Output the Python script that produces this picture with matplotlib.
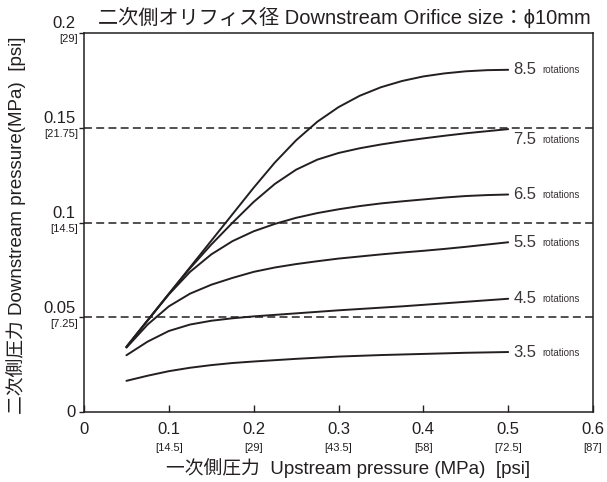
import matplotlib

matplotlib.use("Agg")
import matplotlib.pyplot as plt
import matplotlib.transforms as mtransforms

plt.rcParams["font.family"] = ["Liberation Sans", "Noto Sans CJK JP", "DejaVu Sans"]

# upstream pressure (MPa)
upstream = [0.05, 0.075, 0.1, 0.125, 0.15, 0.175, 0.2, 0.225, 0.25, 0.275,
            0.3, 0.325, 0.35, 0.375, 0.4, 0.425, 0.45, 0.475, 0.5]

# downstream pressure (MPa) for each handle setting
rot_35 = [0.0165, 0.0192, 0.0216, 0.0234, 0.0248, 0.0259, 0.0267, 0.0274, 0.0281, 0.0287,
          0.0293, 0.0297, 0.0301, 0.0304, 0.0307, 0.0310, 0.0313, 0.0315, 0.0317]
rot_45 = [0.0300, 0.0372, 0.0428, 0.0462, 0.0482, 0.0495, 0.0505, 0.0513, 0.0521, 0.0529,
          0.0537, 0.0544, 0.0551, 0.0558, 0.0566, 0.0574, 0.0582, 0.0590, 0.0598]
rot_55 = [0.0340, 0.0462, 0.0558, 0.0625, 0.0672, 0.0708, 0.0740, 0.0763, 0.0781, 0.0796,
          0.0810, 0.0821, 0.0832, 0.0842, 0.0851, 0.0861, 0.0872, 0.0884, 0.0896]
rot_65 = [0.0344, 0.0484, 0.0621, 0.0740, 0.0832, 0.0902, 0.0954, 0.0993, 0.1025, 0.1050,
          0.1070, 0.1087, 0.1101, 0.1112, 0.1122, 0.1132, 0.1140, 0.1145, 0.1148]
rot_75 = [0.0344, 0.0484, 0.0624, 0.0759, 0.0884, 0.0999, 0.1109, 0.1204, 0.1279, 0.1332,
          0.1367, 0.1392, 0.1412, 0.1429, 0.1444, 0.1458, 0.1471, 0.1482, 0.1493]
rot_85 = [0.0344, 0.0484, 0.0624, 0.0764, 0.0904, 0.1044, 0.1184, 0.1317, 0.1434, 0.1532,
          0.1609, 0.1669, 0.1714, 0.1747, 0.1771, 0.1787, 0.1798, 0.1804, 0.1806]

series = [rot_35, rot_45, rot_55, rot_65, rot_75, rot_85]
rot_labels = ["3.5", "4.5", "5.5", "6.5", "7.5", "8.5"]
label_shift = [0.0, 0.0, 0.0, 0.0, -0.0055, 0.0]

x_ticks = [0, 0.1, 0.2, 0.3, 0.4, 0.5, 0.6]
x_main = ["0", "0.1", "0.2", "0.3", "0.4", "0.5", "0.6"]
x_psi = ["", "[14.5]", "[29]", "[43.5]", "[58]", "[72.5]", "[87]"]
y_ticks = [0, 0.05, 0.1, 0.15, 0.2]
y_main = ["0", "0.05", "0.1", "0.15", "0.2"]
y_psi = ["", "[7.25]", "[14.5]", "[21.75]", "[29]"]
grid_levels = [0.05, 0.1, 0.15]

ink = "#231f20"

fig = plt.figure(figsize=(6.07, 4.82), dpi=100)
ax = fig.add_axes([0.1384, 0.145, 0.8386, 0.7865])
ax.set_xlim(0, 0.6)
ax.set_ylim(0, 0.2)

for lvl in grid_levels:
    ax.axhline(lvl, color=ink, linestyle=(0, (5.2, 2.8)), linewidth=1.1, zorder=1)

for ys, lab, dy in zip(series, rot_labels, label_shift):
    ax.plot(upstream, ys, color=ink, linewidth=1.4, solid_capstyle="round",
            solid_joinstyle="round", zorder=2)
    ty = ys[-1] + dy
    ax.text(0.506, ty, lab, fontsize=12, color="#3a3536", ha="left", va="center")
    off = mtransforms.offset_copy(ax.transData, fig=fig, x=21, y=-0.5, units="points")
    ax.text(0.506, ty, "rotations", fontsize=7, color="#3a3536", ha="left", va="center",
            transform=off)

for sp in ax.spines.values():
    sp.set_color(ink)
    sp.set_linewidth(1.1)

ax.set_xticks(x_ticks)
ax.set_yticks(y_ticks)
ax.set_xticklabels([])
ax.set_yticklabels([])
ax.tick_params(axis="x", direction="in", length=5, color=ink, width=1.0)
ax.tick_params(axis="y", direction="out", length=3.5, color=ink, width=1.0)

# two-line tick labels: MPa on top, psi in brackets below
xt = mtransforms.blended_transform_factory(ax.transData, ax.transAxes)
for xv, m, p in zip(x_ticks, x_main, x_psi):
    tm = mtransforms.offset_copy(xt, fig=fig, y=-12.6, units="points")
    ax.text(xv, 0, m, transform=tm, fontsize=12, color=ink, ha="center", va="center")
    if p:
        tp = mtransforms.offset_copy(xt, fig=fig, y=-25.6, units="points")
        ax.text(xv, 0, p, transform=tp, fontsize=8, color=ink, ha="center", va="center")

yt = mtransforms.blended_transform_factory(ax.transAxes, ax.transData)
for yv, m, p in zip(y_ticks, y_main, y_psi):
    if p:
        tm = mtransforms.offset_copy(yt, fig=fig, x=-6, y=1.2, units="points")
        ax.text(0, yv, m, transform=tm, fontsize=12, color=ink, ha="right", va="bottom")
        tp = mtransforms.offset_copy(yt, fig=fig, x=-4.5, y=-4.6, units="points")
        ax.text(0, yv, p, transform=tp, fontsize=8, color=ink, ha="right", va="center")
    else:
        tm = mtransforms.offset_copy(yt, fig=fig, x=-6, y=0, units="points")
        ax.text(0, yv, m, transform=tm, fontsize=12, color=ink, ha="right", va="center")

fig.text(0.567, 0.963, "二次側オリフィス径 Downstream Orifice size：ϕ10mm",
         fontsize=14.5, color=ink, ha="center", va="center")
fig.text(0.574, 0.029, "一次側圧力  Upstream pressure (MPa)  [psi]",
         fontsize=13.5, color=ink, ha="center", va="center")
fig.text(0.026, 0.533, "二次側圧力 Downstream pressure(MPa)  [psi]",
         fontsize=13.5, color=ink, ha="center", va="center", rotation=90)

fig.savefig("out.png", dpi=100)
plt.close(fig)
